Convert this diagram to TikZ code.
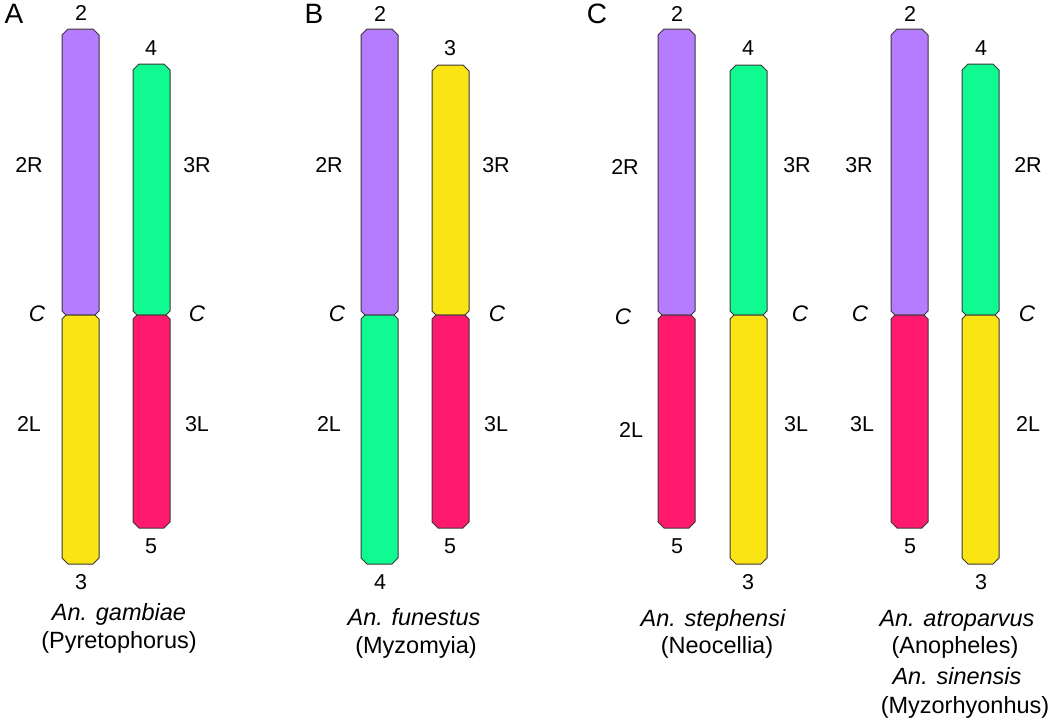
\documentclass[tikz,border=0pt]{standalone}
\usepackage{fontspec}
\setmainfont{Liberation Sans}
\usetikzlibrary{positioning}

\definecolor{armpurple}{RGB}{182,124,255}
\definecolor{armgreen}{RGB}{16,250,146}
\definecolor{armyellow}{RGB}{250,228,20}
\definecolor{armpink}{RGB}{255,26,110}
\definecolor{armline}{RGB}{60,55,55}

% upper arm: fill, x left, y top, y centromere
\newcommand{\uparm}[4]{%
  \draw[arm, fill=#1] ({#2+6},#3) -- ({#2+31},#3) -- ({#2+37},{#3+6}) -- ({#2+37},{#4-4})
    -- ({#2+33},#4) -- ({#2+4},#4) -- (#2,{#4-4}) -- (#2,{#3+6}) -- cycle;}
% lower arm: fill, x left, y centromere, y bottom
\newcommand{\lowarm}[4]{%
  \draw[arm, fill=#1] ({#2+4},#3) -- ({#2+33},#3) -- ({#2+37},{#3+4}) -- ({#2+37},{#4-6})
    -- ({#2+31},#4) -- ({#2+6},#4) -- (#2,{#4-6}) -- (#2,{#3+4}) -- cycle;}

\begin{document}
\begin{tikzpicture}[x=1pt, y=-1pt,
  arm/.style={draw=armline, line width=1pt, line join=round},
  lbl/.style={inner sep=0pt, font=\fontsize{21.5}{25}\selectfont},
  cen/.style={inner sep=0pt, font=\fontsize{22.5}{25}\selectfont\itshape},
  panel/.style={inner sep=0pt, font=\fontsize{28}{31}\selectfont},
  sp/.style={anchor=base, inner sep=0pt, font=\fontsize{23.5}{27}\selectfont}]
  \useasboundingbox (0,0) rectangle (1050,720);

  % Panel A
  \node[panel] (pA) at (14,14) {A};
  \uparm{armpurple}{62}{29}{315}   \lowarm{armyellow}{62}{315}{564}
  \uparm{armgreen}{133}{64}{315}   \lowarm{armpink}{133}{315}{528}
  \node[lbl] (a-l-top) at (81,13) {2};
  \node[lbl] (a-r-top) at (151,48) {4};
  \node[lbl] (a-2R) at (29,165) {2R};
  \node[lbl] (a-3R) at (197,165) {3R};
  \node[cen] (a-cl) at (37,314) {C};
  \node[cen] (a-cr) at (197,314) {C};
  \node[lbl] (a-2L) at (29,424) {2L};
  \node[lbl] (a-3L) at (197,424) {3L};
  \node[lbl] (a-l-bot) at (81,582) {3};
  \node[lbl] (a-r-bot) at (151,546) {5};
  \node[sp] (a-sp) at (119,620) {\itshape An. gambiae};
  \node[sp] (a-sg) at (119,648) {(Pyretophorus)};

  % Panel B
  \node[panel] (pB) at (314,14) {B};
  \uparm{armpurple}{361}{29}{315}  \lowarm{armgreen}{361}{315}{564}
  \uparm{armyellow}{432}{65}{315}  \lowarm{armpink}{432}{315}{528}
  \node[lbl] (b-l-top) at (380,14) {2};
  \node[lbl] (b-r-top) at (450,48) {3};
  \node[lbl] (b-2R) at (329,165) {2R};
  \node[lbl] (b-3R) at (496,165) {3R};
  \node[cen] (b-cl) at (337,314) {C};
  \node[cen] (b-cr) at (497,314) {C};
  \node[lbl] (b-2L) at (329,424) {2L};
  \node[lbl] (b-3L) at (496,424) {3L};
  \node[lbl] (b-l-bot) at (380,582) {4};
  \node[lbl] (b-r-bot) at (450,546) {5};
  \node[sp] (b-sp) at (414,625) {\itshape An. funestus};
  \node[sp] (b-sg) at (416,653) {(Myzomyia)};

  % Panel C, first pair
  \node[panel] (pC) at (597,14) {C};
  \uparm{armpurple}{658}{29}{315}  \lowarm{armpink}{658}{315}{528}
  \uparm{armgreen}{730}{65}{315}   \lowarm{armyellow}{730}{315}{564}
  \node[lbl] (c-l-top) at (677,14) {2};
  \node[lbl] (c-r-top) at (748,48) {4};
  \node[lbl] (c-2R) at (625,167) {2R};
  \node[lbl] (c-3R) at (797,165) {3R};
  \node[cen] (c-cl) at (623,317) {C};
  \node[cen] (c-cr) at (800,314) {C};
  \node[lbl] (c-2L) at (631,430) {2L};
  \node[lbl] (c-3L) at (796,424) {3L};
  \node[lbl] (c-l-bot) at (677,546) {5};
  \node[lbl] (c-r-bot) at (748,582) {3};
  \node[sp] (c-sp) at (713,626) {\itshape An. stephensi};
  \node[sp] (c-sg) at (717,653) {(Neocellia)};

  % Panel C, second pair
  \uparm{armpurple}{891}{29}{315}  \lowarm{armpink}{891}{315}{528}
  \uparm{armgreen}{962}{64}{315}   \lowarm{armyellow}{962}{315}{564}
  \node[lbl] (d-l-top) at (910,14) {2};
  \node[lbl] (d-r-top) at (981,48) {4};
  \node[lbl] (d-3R) at (859,165) {3R};
  \node[lbl] (d-2R) at (1028,165) {2R};
  \node[cen] (d-cl) at (860,314) {C};
  \node[cen] (d-cr) at (1027,314) {C};
  \node[lbl] (d-3L) at (862,424) {3L};
  \node[lbl] (d-2L) at (1028,424) {2L};
  \node[lbl] (d-l-bot) at (910,546) {5};
  \node[lbl] (d-r-bot) at (981,582) {3};
  \node[sp] (d-sp) at (957,626) {\itshape An. atroparvus};
  \node[sp] (d-sg) at (955,653) {(Anopheles)};
  \node[sp] (e-sp) at (957,684) {\itshape An. sinensis};
  \node[sp] (e-sg) at (965,713) {(Myzorhyonhus)};
\end{tikzpicture}
\end{document}
